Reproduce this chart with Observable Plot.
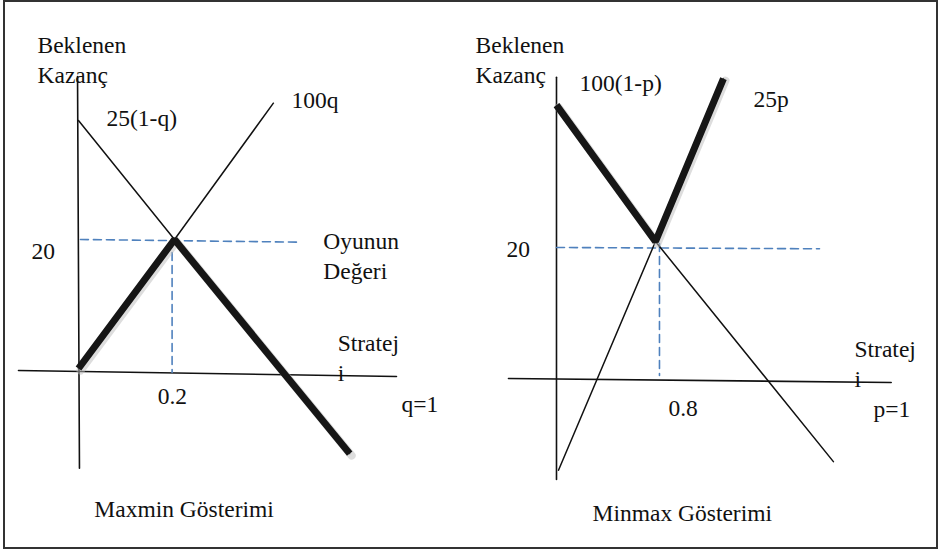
<!DOCTYPE html>
<html><head><meta charset="utf-8">
<script src="https://cdn.jsdelivr.net/npm/d3@7"></script>
<script src="https://cdn.jsdelivr.net/npm/@observablehq/plot@0.6"></script>
<style>
body{margin:0;background:#fff}
#wrap{position:relative;width:940px;height:553px;overflow:hidden;background:#fff}
#frame{position:absolute;left:3px;top:0;width:935px;height:549px;border:2.5px solid #333;box-sizing:border-box;pointer-events:none}
.panel{position:absolute;top:0}
#wrap svg text{font-family:"Liberation Serif","Times New Roman",serif !important}
</style></head>
<body>
<div id="wrap"><div id="left" class="panel" style="left:0"></div><div id="right" class="panel" style="left:470px"></div><div id="frame"></div></div>
<script>
// ---- Left panel (Maxmin): x = q, y = expected payoff (schematic) ----
const leftYAxis = [{q:-0.002, v:44.5}, {q:0.002, v:-14.4}];
const leftXAxis = [{q:-0.125, v:0.3}, {q:0.6625, v:-0.6}];
const leftDecline = [{q:0, v:37.9}, {q:0.2, v:20}, {q:0.565, v:-12.2}];   // 25(1-q)
const leftRise = [{q:0, v:0.6}, {q:0.2, v:20}, {q:0.406, v:40.5}];        // 100q
const leftValueLine = [{q:0.004, v:20}, {q:0.458, v:19.6}];
const leftStrategyLine = [{q:0.195, v:20}, {q:0.195, v:0}];
const leftLabels = [
  {q:-0.0854, v:48.1, t:"Beklenen"},
  {q:-0.0854, v:43.6, t:"Kazanç"},
  {q:0.0583, v:37.1, t:"25(1-q)"},
  {q:0.444, v:39.8, t:"100q"},
  {q:-0.098, v:17.1, t:"20"},
  {q:0.510, v:18.6, t:"Oyunun"},
  {q:0.510, v:14.1, t:"Değeri"},
  {q:0.540, v:3.2, t:"Stratej"},
  {q:0.540, v:-1.35, t:"i"},
  {q:0.165, v:-4.8, t:"0.2"},
  {q:0.673, v:-6.0, t:"q=1"},
  {q:0.033, v:-21.7, t:"Maxmin Gösterimi"}
];

// ---- Right panel (Minmax): x = p, y = expected payoff (schematic) ----
const rightYAxis = [{p:0, v:45.6}, {p:0, v:-14.9}];
const rightXAxis = [{p:-0.373, v:0.3}, {p:2.60, v:-0.3}];
const rightDecline = [{p:0, v:41.4}, {p:0.769, v:20.9}, {p:2.151, v:-12.2}]; // 100(1-p)
const rightRise = [{p:0.0155, v:-13.5}, {p:0.769, v:20.9}, {p:1.297, v:45.4}]; // 25p
const rightValueLine = [{p:0, v:20}, {p:2.043, v:19.8}];
const rightStrategyLine = [{p:0.8, v:20.6}, {p:0.8, v:0.75}];
const rightLabels = [
  {p:-0.629, v:49.3, t:"Beklenen"},
  {p:-0.629, v:44.8, t:"Kazanç"},
  {p:0.179, v:43.6, t:"100(1-p)"},
  {p:1.530, v:41.05, t:"25p"},
  {p:-0.388, v:18.5, t:"20"},
  {p:2.315, v:3.46, t:"Stratej"},
  {p:2.315, v:-1.05, t:"i"},
  {p:0.870, v:-5.41, t:"0.8"},
  {p:2.462, v:-5.56, t:"p=1"},
  {p:0.280, v:-21.2, t:"Minmax Gösterimi"}
];

const INK = "#111";
const BLUE = "#4f81bd";
const FONT = "Liberation Serif";

function panel(xk, xDomain, yDomain, yAxis, xAxis, decline, rise, thick, valueLine, stratLine, labels) {
  return Plot.plot({
    width: 470, height: 553, margin: 0,
    style: {fontFamily: FONT, fontSize: "23.5px", background: "transparent", overflow: "visible"},
    x: {domain: xDomain, axis: null},
    y: {domain: yDomain, axis: null},
    marks: [
      Plot.line(yAxis, {x: xk, y: "v", stroke: INK, strokeWidth: 1.6}),
      Plot.line(xAxis, {x: xk, y: "v", stroke: INK, strokeWidth: 1.6}),
      Plot.line(valueLine, {x: xk, y: "v", stroke: BLUE, strokeWidth: 1.6, strokeDasharray: "8,5"}),
      Plot.line(stratLine, {x: xk, y: "v", stroke: BLUE, strokeWidth: 1.6, strokeDasharray: "8,5"}),
      Plot.line(decline, {x: xk, y: "v", stroke: INK, strokeWidth: 1.5}),
      Plot.line(rise, {x: xk, y: "v", stroke: INK, strokeWidth: 1.5}),
      Plot.line(thick, {x: xk, y: "v", stroke: "#bbb", strokeOpacity: 0.5, strokeWidth: 8, dx: 2, dy: 2}),
      Plot.line(thick, {x: xk, y: "v", stroke: "#161616", strokeWidth: 7, strokeLinejoin: "miter", strokeLinecap: "butt"}),
      Plot.text(labels, {x: xk, y: "v", text: "t", textAnchor: "start", lineAnchor: "bottom", fontSize: 23.5, fontFamily: FONT, fill: INK})
    ]
  });
}

document.getElementById("left").append(panel("q", [-0.1625, 0.8167], [-27.22, 55.94],
  leftYAxis, leftXAxis, leftDecline, leftRise, [leftRise[0], leftRise[1], leftDecline[2]],
  leftValueLine, leftStrategyLine, leftLabels));
document.getElementById("right").append(panel("p", [-0.668, 2.983], [-26.02, 57.14],
  rightYAxis, rightXAxis, rightDecline, rightRise, [rightDecline[0], rightDecline[1], rightRise[2]],
  rightValueLine, rightStrategyLine, rightLabels));
</script>
</body></html>
